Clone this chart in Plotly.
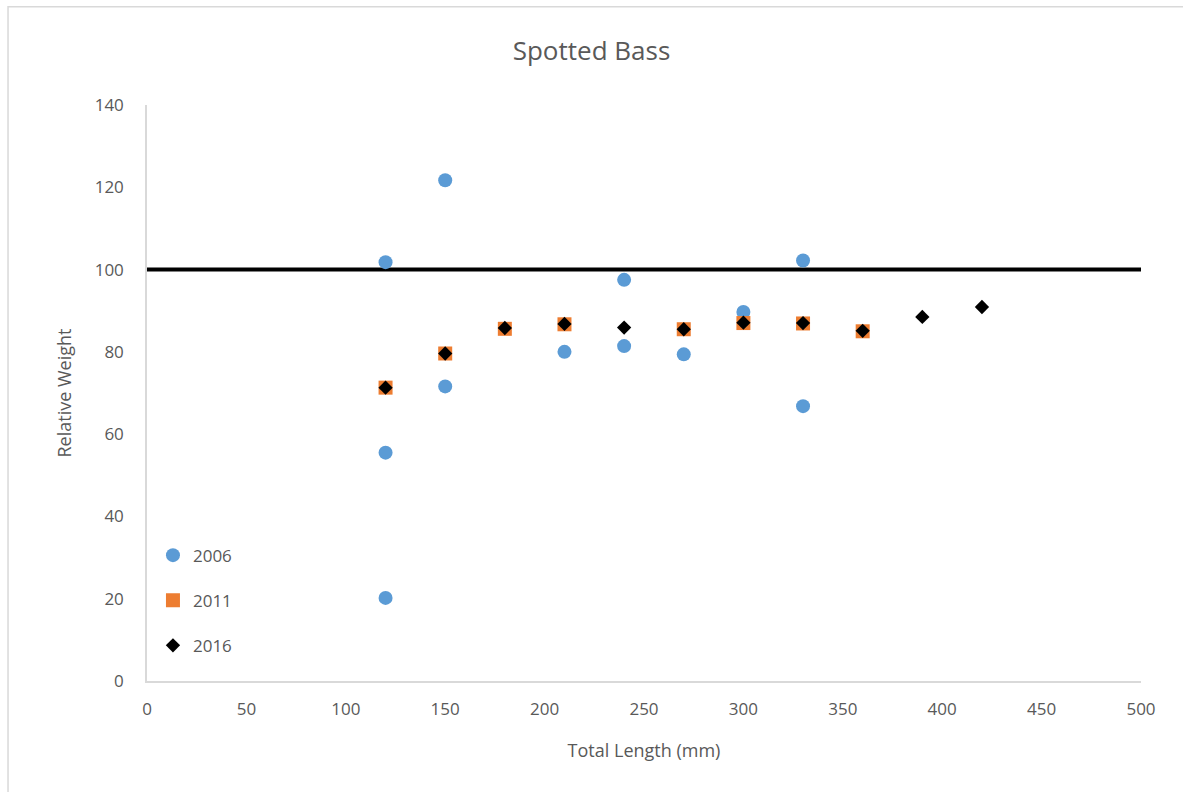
import plotly.graph_objects as go

# Relative weight by total length, three survey years
len_2006 = [120, 120, 120, 150, 150, 210, 240, 240, 270, 300, 330, 330]
wr_2006 = [101.8, 55.5, 20.2, 121.7, 71.6, 80.0, 97.5, 81.4, 79.4, 89.7, 102.2, 66.8]

len_2011 = [120, 150, 180, 210, 270, 300, 330, 360]
wr_2011 = [71.3, 79.6, 85.6, 86.7, 85.5, 87.0, 86.9, 85.0]

len_2016 = [120, 150, 180, 210, 240, 270, 300, 330, 360, 390, 420]
wr_2016 = [71.3, 79.6, 85.8, 86.8, 85.9, 85.5, 87.1, 87.0, 85.1, 88.5, 90.9]

# Standard relative-weight reference line
ref_x = [0, 500]
ref_y = [100, 100]

x_ticks = [0, 50, 100, 150, 200, 250, 300, 350, 400, 450, 500]
y_ticks = [0, 20, 40, 60, 80, 100, 120, 140]

FONT = "Open Sans, Liberation Sans, sans-serif"
GREY = "#595959"

fig = go.Figure()

fig.add_trace(go.Scatter(
    x=ref_x, y=ref_y, mode="lines",
    line=dict(color="black", width=4),
    showlegend=False, hoverinfo="skip",
))
fig.add_trace(go.Scatter(
    x=len_2006, y=wr_2006, mode="markers", name="2006", legendgroup="a",
    marker=dict(symbol="circle", size=14, color="#5B9BD5"),
))
fig.add_trace(go.Scatter(
    x=len_2011, y=wr_2011, mode="markers", name="2011", legendgroup="b",
    marker=dict(symbol="square", size=14, color="#ED7D31"),
))
fig.add_trace(go.Scatter(
    x=len_2016, y=wr_2016, mode="markers", name="2016", legendgroup="c",
    marker=dict(symbol="diamond", size=11, color="black"),
))

fig.update_layout(
    width=1183, height=792,
    margin=dict(l=147, r=42, t=105, b=111),
    paper_bgcolor="white", plot_bgcolor="white",
    font=dict(family=FONT, color=GREY, size=17),
    title=dict(text="Spotted Bass", x=0.5, xanchor="center", y=0.936, yanchor="middle",
               font=dict(size=26, color=GREY, family=FONT)),
    legend=dict(x=0.006, y=0.249, xanchor="left", yanchor="top",
                bgcolor="rgba(0,0,0,0)", tracegroupgap=20,
                traceorder="grouped", font=dict(size=17, color=GREY),
                itemwidth=30),
    shapes=[dict(type="rect", xref="paper", yref="paper",
                 x0=-0.1398, x1=1.2, y0=-0.3, y1=1.1705,
                 line=dict(color="#D9D9D9", width=1.5), layer="below")],
)

fig.update_xaxes(
    range=[0, 500], tickvals=x_ticks, showgrid=False, zeroline=False,
    showline=True, linecolor="#D9D9D9", linewidth=1.5,
    ticks="", ticklabelstandoff=12,
    title=dict(text="Total Length (mm)", font=dict(size=18, color=GREY), standoff=25),
)
fig.update_yaxes(
    range=[0, 140], tickvals=y_ticks, showgrid=False, zeroline=False,
    showline=True, linecolor="#D9D9D9", linewidth=1.5,
    ticks="", ticklabelstandoff=18,
    title=dict(text="Relative Weight", font=dict(size=18, color=GREY), standoff=18),
)

fig.write_html("out.html")
